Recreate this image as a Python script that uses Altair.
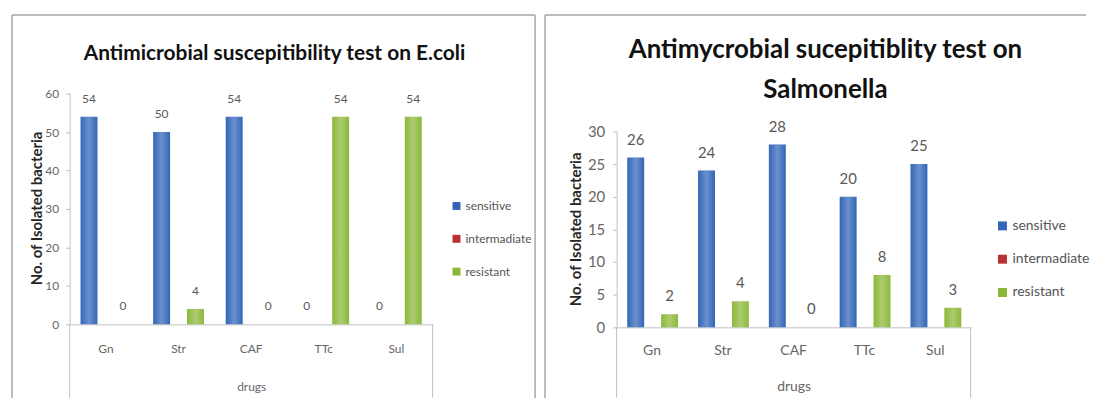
import altair as alt
import pandas as pd

# ---------------- data ----------------
drugs = ["Gn", "Str", "CAF", "TTc", "Sul"]
statuses = ["sensitive", "intermadiate", "resistant"]

ecoli_sensitive = [54, 50, 54, 0, 0]
ecoli_intermadiate = [None, None, None, None, None]
ecoli_resistant = [0, 4, 0, 54, 54]

salmonella_sensitive = [26, 24, 28, 20, 25]
salmonella_intermadiate = [None, None, None, None, None]
salmonella_resistant = [2, 4, 0, 8, 3]

ecoli_title = "Antimicrobial suscepitibility test on E.coli"
salmonella_title = ["Antimycrobial sucepitiblity test on", "Salmonella"]
y_title = "No. of Isolated bacteria"
x_title = "drugs"
ecoli_yticks = [0, 10, 20, 30, 40, 50, 60]
salmonella_yticks = [0, 5, 10, 15, 20, 25, 30]

status_colors = ["#3366b8", "#b83232", "#8cb83a"]

FONT = "Lato"
GRAY = "#666666"
FRAME = "#a6a6a6"


def long_df(sens, inter, res):
    rows = []
    for i, d in enumerate(drugs):
        for s, vals in zip(statuses, [sens, inter, res]):
            rows.append({"drug": d, "status": s, "value": vals[i]})
    return pd.DataFrame(rows)


one = pd.DataFrame({"k": [0]})

shine = alt.Gradient(
    gradient="linear",
    x1=0, x2=1, y1=0, y2=0,
    stops=[
        alt.GradientStop(color="rgba(255,255,255,0)", offset=0),
        alt.GradientStop(color="rgba(255,255,255,0.28)", offset=0.5),
        alt.GradientStop(color="rgba(255,255,255,0)", offset=1),
    ],
)


def panel(df, c):
    base = alt.Chart(df).transform_filter("isValid(datum.value)")
    x = alt.X(
        "drug:N", sort=drugs,
        scale=alt.Scale(paddingInner=0.3, paddingOuter=0.15),
        axis=alt.Axis(
            title=x_title, labelAngle=0, ticks=False, domainColor="#bfbfbf",
            labelFont=FONT, labelFontSize=c["xlab"], labelColor=GRAY,
            labelPadding=c["xpad"],
            titleFont=FONT, titleFontSize=c["xlab"], titleFontWeight="normal",
            titleColor=GRAY, titleY=c["xtitleY"], titleBaseline="middle",
        ),
    )
    xo = alt.XOffset(
        "status:N", sort=statuses,
        scale=alt.Scale(domain=statuses, paddingInner=0, paddingOuter=0),
    )
    y = alt.Y(
        "value:Q",
        scale=alt.Scale(domain=[0, c["ymax"]], range=c["yrange"], nice=False),
        axis=alt.Axis(
            values=c["yticks"], grid=False, tickSize=4, tickColor="#bfbfbf",
            domainColor="#bfbfbf",
            labelFont=FONT, labelFontSize=c["ylab"], labelColor=GRAY,
            labelPadding=c["ypad"],
            title=y_title, titleFont=FONT, titleFontSize=c["ytitle"],
            titleFontWeight="bold", titleColor="#262626",
            titleX=c["ytitleX"], titleY=c["ytitleY"], titleBaseline="middle",
        ),
    )
    color = alt.Color(
        "status:N",
        scale=alt.Scale(domain=statuses, range=status_colors),
        legend=alt.Legend(
            orient="none", legendX=c["legX"], legendY=c["legY"], title=None,
            symbolType="square", symbolSize=c["sym"], symbolStrokeWidth=0,
            labelFont=FONT, labelFontSize=c["leg"], labelColor="#555555",
            padding=0, rowPadding=c["rowpad"], labelOffset=3,
        ),
    )
    bars = base.mark_bar().encode(x=x, xOffset=xo, y=y, color=color)
    gloss = base.mark_bar(color=shine).encode(x=x, xOffset=xo, y=y)
    labels = base.mark_text(
        dy=-18, font=FONT, fontSize=c["lab"], color="#595959"
    ).encode(x=x, xOffset=xo, y=y, text="value:Q")

    title = alt.Chart(one).mark_text(
        text=c["title"], font=FONT, fontSize=c["tsize"], fontWeight="bold",
        color="#111111", align="center", baseline="middle",
        lineHeight=c["tline"],
    ).encode(x=alt.value(c["tx"]), y=alt.value(c["ty"]))

    fl, fr, ft, fb = c["frame"]
    top_rule = alt.Chart(one).mark_rule(color=FRAME, strokeWidth=1.5).encode(
        x=alt.value(fl), x2=alt.value(fr), y=alt.value(ft))
    left_rule = alt.Chart(one).mark_rule(color=FRAME, strokeWidth=1.5).encode(
        x=alt.value(fl), y=alt.value(ft), y2=alt.value(fb))
    layers = [top_rule, left_rule]
    if c["right_edge"]:
        layers.append(alt.Chart(one).mark_rule(color=FRAME, strokeWidth=1.5).encode(
            x=alt.value(fr), y=alt.value(ft), y2=alt.value(fb)))
    box_l = alt.Chart(one).mark_rule(color="#bfbfbf").encode(
        x=alt.value(0), y=alt.value(c["h"]), y2=alt.value(fb))
    box_r = alt.Chart(one).mark_rule(color="#bfbfbf").encode(
        x=alt.value(c["w"]), y=alt.value(c["h"]), y2=alt.value(fb))
    layers += [box_l, box_r, bars, gloss, labels, title]
    return alt.layer(*layers).properties(width=c["w"], height=c["h"])


ecoli_cfg = dict(
    w=365, h=232, ymax=60, yrange=[232, 0], yticks=ecoli_yticks,
    xlab=12, xpad=19, xtitleY=63, ylab=12, ypad=7, ytitle=15,
    ytitleX=-33, ytitleY=115,
    legX=383, legY=107, sym=64, leg=12, rowpad=21, lab=12,
    title=ecoli_title, tsize=21, tline=24, tx=206, ty=-40,
    frame=(-58, 468, -79, 306), right_edge=True,
)
salmonella_cfg = dict(
    w=356, h=235, ymax=30, yrange=[235, 38], yticks=salmonella_yticks,
    xlab=14, xpad=16, xtitleY=60, ylab=15, ypad=8, ytitle=15,
    ytitleX=-41, ytitleY=136,
    legX=381, legY=126, sym=81, leg=14, rowpad=19.5, lab=15,
    title=salmonella_title, tsize=26, tline=40, tx=210, ty=-44,
    frame=(-72, 472, -79, 306), right_edge=False,
)

left = panel(long_df(ecoli_sensitive, ecoli_intermadiate, ecoli_resistant), ecoli_cfg)
right = panel(long_df(salmonella_sensitive, salmonella_intermadiate, salmonella_resistant), salmonella_cfg)

chart = (
    alt.hconcat(left, right, spacing=8)
    .resolve_scale(color="independent")
    .resolve_legend(color="independent")
    .properties(padding={"left": 3, "top": 5, "right": 0, "bottom": 0})
    .configure_view(stroke=None)
)

chart.save("out.html", embed_options={"renderer": "svg", "actions": False})
